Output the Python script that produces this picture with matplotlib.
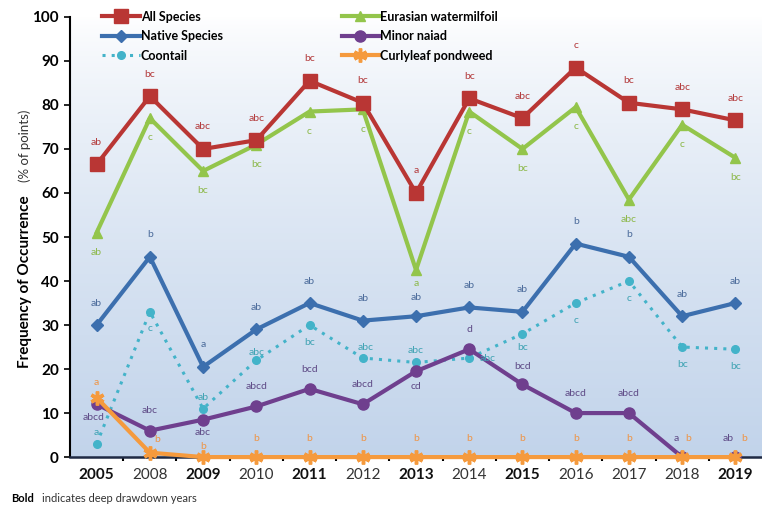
import numpy as np
import matplotlib
matplotlib.use("Agg")
import matplotlib.pyplot as plt

plt.rcParams['font.family'] = ['Lato', 'DejaVu Sans']

# ======== data ========
years = ["2005", "2008", "2009", "2010", "2011", "2012", "2013",
         "2014", "2015", "2016", "2017", "2018", "2019"]
bold_years = ["2005", "2009", "2011", "2013", "2015", "2019"]

all_species = [66.5, 82, 70, 72, 85.5, 80.5, 60, 81.5, 77, 88.5, 80.5, 79, 76.5]
eurasian = [51, 77, 65, 71, 78.5, 79, 42.5, 78.5, 70, 79.5, 58.5, 75.5, 68]
native = [30, 45.5, 20.5, 29, 35, 31, 32, 34, 33, 48.5, 45.5, 32, 35]
coontail = [3, 33, 11, 22, 30, 22.5, 21.5, 22.5, 28, 35, 40, 25, 24.5]
minor_naiad = [12, 6, 8.5, 11.5, 15.5, 12, 19.5, 24.5, 16.5, 10, 10, 0, 0]
curlyleaf = [13.5, 1, 0, 0, 0, 0, 0, 0, 0, 0, 0, 0, 0]

all_lbl = ["ab", "bc", "abc", "abc", "bc", "bc", "a", "bc", "abc", "c", "bc", "abc", "abc"]
eur_lbl = ["ab", "c", "bc", "bc", "c", "c", "a", "c", "bc", "c", "abc", "c", "bc"]
nat_lbl = ["ab", "b", "a", "ab", "ab", "ab", "ab", "ab", "ab", "b", "b", "ab", "ab"]
coo_lbl = ["a", "c", "ab", "abc", "bc", "abc", "abc", "abc", "bc", "c", "c", "bc", "bc"]
nai_lbl = ["abcd", "abc", "abc", "abcd", "bcd", "abcd", "cd", "d", "bcd", "abcd", "abcd", "a", "ab"]
cur_lbl = ["a", "b", "b", "b", "b", "b", "b", "b", "b", "b", "b", "b", "b"]

# label placement (x offset in categories, y offset in % units)
all_dy = [5] * 13
eur_dy = [-4.5] * 6 + [-3] + [-4.5] * 6
nat_dy = [5] * 6 + [4.3] + [5] * 6
coo_dx = [0, 0, 0, 0, 0, 0.05, 0, 0.35, 0, 0, 0, 0, 0]
coo_dy = [2.5, -3.7, 2.6, 1.8, -4, 2.5, 2.8, 0, -3, -4, -4, -4, -4]
nai_dx = [-0.05, 0, 0, 0, 0, 0, 0, 0, 0, 0, 0, -0.12, -0.14]
nai_dy = [-3, 4.6, -3, 4.5, 4.5, 4.5, -3.5, 4.5, 4, 4.5, 4.5, 4.2, 4.2]
cur_dx = [0, 0.13, 0, 0, 0, 0, 0, 0, 0, 0, 0, 0.12, 0.16]
cur_dy = [3.5, 3, 2.3] + [4.2] * 10

# ======== figure ========
fig = plt.figure(figsize=(7.62, 5.13), dpi=100)
ax = fig.add_axes([0.0919, 0.109, 0.9081, 0.858])

x = np.arange(len(years))

# gradient background (white at top, light blue at bottom)
grad = np.linspace(0, 1, 256).reshape(-1, 1)
top = np.array([1.0, 1.0, 1.0])
bot = np.array([0.76, 0.83, 0.92])
img = top + (bot - top) * grad[:, :, None] ** 0.75
ax.imshow(img, extent=[-0.5, len(years) - 0.5, 0, 100], aspect="auto", zorder=0,
          origin="upper")
ax.set_xlim(-0.5, len(years) - 0.5)
ax.set_ylim(0, 100)

c_all = "#b93634"
c_eur = "#93c54b"
c_nat = "#3c6fae"
c_coo = "#43b3c9"
c_nai = "#6f3f8e"
c_cur = "#f59a3d"

ax.plot(x, all_species, color=c_all, lw=3, marker="s", ms=10, label="All Species", zorder=5)
ax.plot(x, native, color=c_nat, lw=3, marker="D", ms=6.5, label="Native Species", zorder=5)
ax.plot(x, coontail, color=c_coo, lw=2.2, ls=(0, (1, 2)), marker="o", ms=5.5,
        label="Coontail", zorder=4)
ax.plot(x, eurasian, color=c_eur, lw=3, marker="^", ms=7, label="Eurasian watermilfoil", zorder=4)
ax.plot(x, minor_naiad, color=c_nai, lw=3, marker="o", ms=8, label="Minor naiad", zorder=6)
ax.plot(x, curlyleaf, color=c_cur, lw=3, marker=(6, 2, 0), ms=10, mew=2.5,
        label="Curlyleaf pondweed", zorder=7, clip_on=False)


def put_labels(vals, labels, dys, dxs, color):
    for i, (v, t) in enumerate(zip(vals, labels)):
        ax.text(x[i] + dxs[i], v + dys[i], t, color=color, fontsize=7.5,
                ha="center", va="center", zorder=8)


zeros = [0] * len(years)
put_labels(all_species, all_lbl, all_dy, zeros, "#b3393a")
put_labels(eurasian, eur_lbl, eur_dy, zeros, "#8cb849")
put_labels(native, nat_lbl, nat_dy, zeros, "#4a6a9a")
put_labels(coontail, coo_lbl, coo_dy, coo_dx, "#3fa3b3")
put_labels(minor_naiad, nai_lbl, nai_dy, nai_dx, "#5e4a86")
put_labels(curlyleaf, cur_lbl, cur_dy, cur_dx, "#ef9444")

# axes styling
for s in ["top", "right"]:
    ax.spines[s].set_visible(False)
ax.spines["left"].set_linewidth(1.5)
ax.spines["bottom"].set_linewidth(1.8)
ax.spines["bottom"].set_color("#1f2a44")

ax.set_yticks(range(0, 101, 10))
ax.set_yticklabels([str(v) for v in range(0, 101, 10)], fontsize=11, fontweight="bold")
ax.tick_params(axis="y", length=4, width=1.2, pad=4)

ax.set_xticks(x)
ax.set_xticklabels(years, fontsize=11, color="#333333")
for lab in ax.get_xticklabels():
    if lab.get_text() in bold_years:
        lab.set_fontweight("bold")
        lab.set_color("#111111")
ax.tick_params(axis="x", length=0, pad=8)
ax.set_xticks(x[:-1] + 0.5, minor=True)
ax.tick_params(axis="x", which="minor", length=3, width=1.5, direction="out")

# y label in two parts
fig.text(0.033, 0.283, "Frequency of Occurrence", rotation=90, fontsize=11,
         fontweight="bold", ha="center", va="bottom")
fig.text(0.033, 0.645, "(% of points)", rotation=90, fontsize=9.5,
         ha="center", va="bottom", color="#333333")

leg = ax.legend(ncol=2, loc="upper left", bbox_to_anchor=(0.03, 1.04), frameon=False,
                prop={"weight": "bold", "size": 9}, handlelength=3,
                columnspacing=9.5, labelspacing=0.6, handletextpad=0.1)

fig.text(0.015, 0.018, "Bold", fontsize=8, fontweight="bold", va="bottom")
fig.text(0.055, 0.018, "indicates deep drawdown years", fontsize=8,
         color="#333333", va="bottom")

fig.savefig("out.png", dpi=100)
